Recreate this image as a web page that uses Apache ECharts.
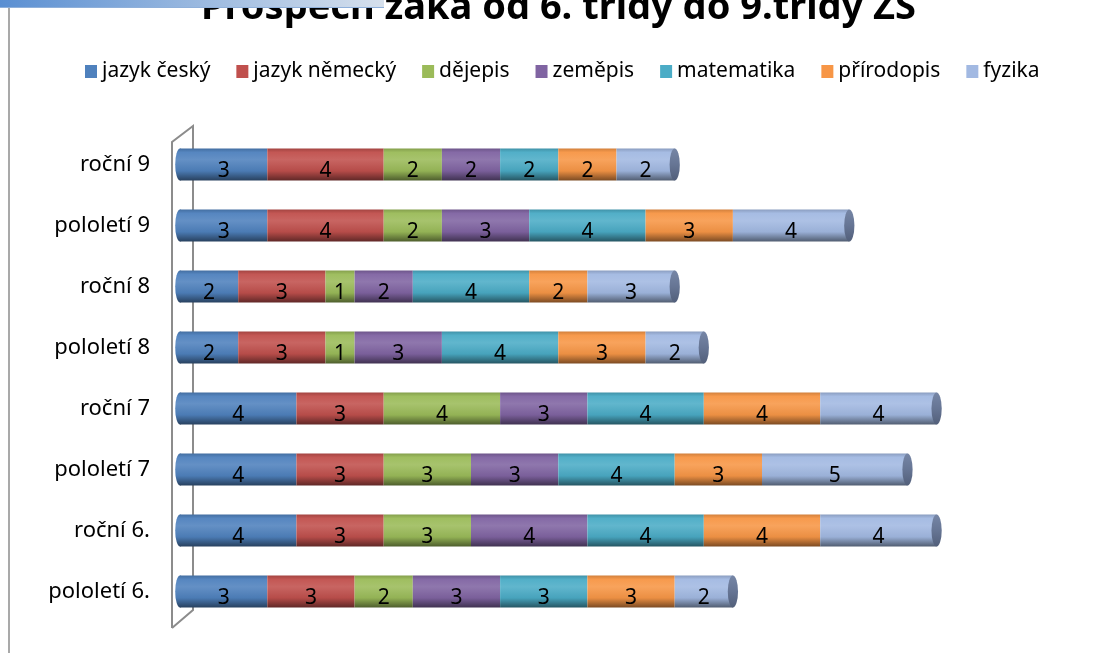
<!DOCTYPE html>
<html>
<head>
<meta charset="utf-8">
<script src="https://cdn.jsdelivr.net/npm/echarts@6/dist/echarts.min.js"></script>
<style>
  html, body { margin: 0; padding: 0; background: #fff; }
  #chart { width: 1094px; height: 653px; }
</style>
</head>
<body>
<div id="chart"></div>
<script>
// kategorie odspodu nahoru (osa Y)
var categories = ['pololetí 6.', 'roční 6.', 'pololetí 7', 'roční 7', 'pololetí 8', 'roční 8', 'pololetí 9', 'roční 9']
var subjects = ['jazyk český', 'jazyk německý', 'dějepis', 'zeměpis', 'matematika', 'přírodopis', 'fyzika']

var jazykCesky   = [3, 4, 4, 4, 2, 2, 3, 3]
var jazykNemecky = [3, 3, 3, 3, 3, 3, 4, 4]
var dejepis      = [2, 3, 3, 4, 1, 1, 2, 2]
var zemepis      = [3, 4, 3, 3, 3, 2, 3, 2]
var matematika   = [3, 4, 4, 4, 4, 4, 4, 2]
var prirodopis   = [3, 4, 3, 4, 3, 2, 3, 2]
var fyzika       = [2, 4, 5, 4, 2, 3, 4, 2]

var seriesValues = [jazykCesky, jazykNemecky, dejepis, zemepis, matematika, prirodopis, fyzika]
var colors = ['#4F81BD', '#C0504D', '#9BBB59', '#8064A2', '#4BACC6', '#F79646', '#A2B9E2']

var FONT = "'Noto Sans', sans-serif"

// zesvetleni / ztmaveni barvy
function shade(hex, f) {
    var n = parseInt(hex.slice(1), 16)
    var r = (n >> 16) & 255, g = (n >> 8) & 255, b = n & 255
    function c(v) {
        v = f >= 0 ? v + (255 - v) * f : v * (1 + f)
        return Math.round(Math.max(0, Math.min(255, v)))
    }
    return 'rgb(' + c(r) + ',' + c(g) + ',' + c(b) + ')'
}
function cylinder(hex) {
    return new echarts.graphic.LinearGradient(0, 0, 0, 1, [
        { offset: 0, color: shade(hex, -0.15) },
        { offset: 0.12, color: shade(hex, 0.04) },
        { offset: 0.35, color: shade(hex, 0.12) },
        { offset: 0.7, color: shade(hex, -0.05) },
        { offset: 1, color: shade(hex, -0.5) }
    ])
}

var totals = categories.map(function (c, i) {
    return seriesValues.reduce(function (s, arr) { return s + arr[i] }, 0)
})

var BAR_H = 32

var series = subjects.map(function (name, k) {
    return {
        name: name,
        type: 'bar',
        stack: 'celkem',
        barWidth: BAR_H,
        z: 3,
        itemStyle: { color: cylinder(colors[k]) },
        label: {
            show: true,
            position: 'inside',
            offset: [0, 7],
            color: '#000',
            fontSize: 21,
            fontFamily: FONT
        },
        data: seriesValues[k]
    }
})

// levy konec valce (pod tyci)
series.push({
    name: 'levy',
    type: 'custom',
    z: 2,
    silent: true,
    renderItem: function (params, api) {
        var p = api.coord([0, api.value(1)])
        return {
            type: 'circle',
            x: p[0], y: p[1], scaleX: 0.3,
            shape: { cx: 0, cy: 0, r: BAR_H / 2 },
            style: { fill: cylinder(colors[0]) }
        }
    },
    data: categories.map(function (c, i) { return [0, i] })
})
// pravy konec valce (vicko)
series.push({
    name: 'vicko',
    type: 'custom',
    z: 4,
    silent: true,
    renderItem: function (params, api) {
        var p = api.coord([api.value(0), api.value(1)])
        return {
            type: 'circle',
            x: p[0], y: p[1], scaleX: 0.32,
            shape: { cx: 0, cy: 0, r: BAR_H / 2 },
            style: {
                fill: new echarts.graphic.LinearGradient(0, 0, 0, 1, [
                    { offset: 0, color: '#7686a6' },
                    { offset: 0.5, color: '#667594' },
                    { offset: 1, color: '#525f7a' }
                ])
            }
        }
    },
    data: totals.map(function (t, i) { return [t, i] })
})

var chart = echarts.init(document.getElementById('chart'))
chart.setOption({
    animation: false,
    title: {
        text: 'Prospěch žáka od 6. třídy do 9.třídy ZŠ',
        left: 196,
        top: -16,
        textStyle: { fontSize: 38, fontWeight: 'bold', color: '#000', fontFamily: FONT }
    },
    legend: {
        data: subjects.map(function (s, k) { return { name: s, itemStyle: { color: colors[k] } } }),
        top: 56,
        left: 80,
        icon: 'rect',
        itemWidth: 12,
        itemHeight: 13,
        itemGap: 26,
        textStyle: { fontSize: 21, color: '#000', fontFamily: FONT }
    },
    grid: { left: 180, right: 41, top: 134, bottom: 31 },
    xAxis: {
        type: 'value',
        min: 0,
        max: 30,
        show: false
    },
    yAxis: {
        type: 'category',
        data: categories,
        axisLine: { show: false },
        axisTick: { show: false },
        axisLabel: { color: '#000', fontSize: 22, fontFamily: FONT, margin: 30 }
    },
    graphic: [
        { type: 'line', shape: { x1: 9, y1: 8, x2: 9, y2: 653 }, style: { stroke: '#8c8c8c', lineWidth: 1.5 } },
        // stena osy
        { type: 'polyline', z: 1, shape: { points: [[172, 628], [172, 142], [193, 126], [193, 610], [172, 628]] },
          style: { stroke: '#8c8c8c', lineWidth: 2, fill: null } },
        // modry pruh vlevo nahore (prekryva nadpis)
        { type: 'rect', left: 0, top: 0, z: 100, shape: { width: 384, height: 7 },
          style: { fill: new echarts.graphic.LinearGradient(0, 0, 1, 0, [
              { offset: 0, color: '#5a8fd2' }, { offset: 1, color: '#d6e0ec' }]) } },
        { type: 'line', z: 100, shape: { x1: 0, y1: 7.5, x2: 384, y2: 7.5 }, style: { stroke: '#8fb0da', lineWidth: 1 } }
    ],
    series: series
})
</script>
</body>
</html>
